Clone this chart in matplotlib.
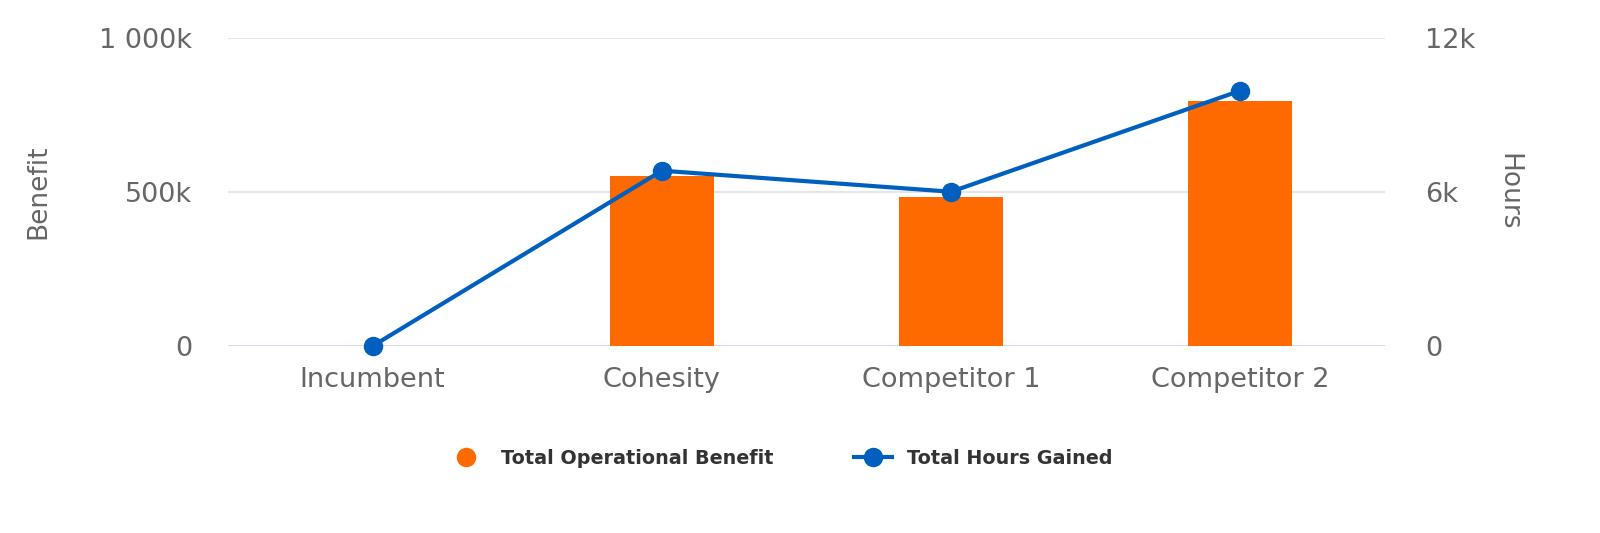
import matplotlib.pyplot as plt
from matplotlib.lines import Line2D
from matplotlib.ticker import FuncFormatter

# data
categories = ['Incumbent', 'Cohesity', 'Competitor 1', 'Competitor 2']
benefit = [0, 552000, 484000, 795000]
hours = [0, 6830, 6010, 9950]

orange = '#ff6a00'
blue = '#005fbf'
tick_col = '#666666'

plt.rcParams['font.family'] = ['DejaVu Sans']

fig = plt.figure(figsize=(16, 5.33), dpi=100)
ax = fig.add_axes([228 / 1600, 1 - 346 / 533, (1385 - 228) / 1600, (346 - 38) / 533])
ax2 = ax.twinx()

x = range(len(categories))
ax.bar(x, benefit, width=0.36, color=orange, zorder=2)
ax2.plot(x, hours, color=blue, linewidth=3, marker='o', markersize=13, zorder=3, clip_on=False)

ax.set_xlim(-0.5, 3.5)
ax.set_ylim(0, 1000000)
ax2.set_ylim(0, 12000)
ax.set_yticks([0, 500000, 1000000])
ax2.set_yticks([0, 6000, 12000])

def fmt_left(v, pos):
    if v == 0:
        return '0'
    k = int(v / 1000)
    return '{:,}k'.format(k).replace(',', ' ')

ax.yaxis.set_major_formatter(FuncFormatter(fmt_left))
ax2.yaxis.set_major_formatter(FuncFormatter(lambda v, p: '0' if v == 0 else f'{int(v / 1000)}k'))

ax.set_xticks(list(x))
ax.set_xticklabels(categories)

# grid lines
for y in [500000, 1000000]:
    ax.axhline(y, color='#e6e6e6', linewidth=1.5, zorder=0)
ax.axhline(0, color='#ccd6eb', linewidth=2, zorder=1)

for a in (ax, ax2):
    for s in a.spines.values():
        s.set_visible(False)
    a.tick_params(length=0, labelsize=19.5, labelcolor=tick_col)
ax.tick_params(axis='y', pad=26)
ax2.tick_params(axis='y', pad=29)
ax.tick_params(axis='x', pad=15)

ax.set_ylabel('Benefit', fontsize=19, color=tick_col, va='center')
ax.yaxis.set_label_coords((38 - 228) / 1157, 0.5)
ax2.set_ylabel('Hours', fontsize=19, color=tick_col, rotation=270, va='center')
ax2.yaxis.set_label_coords((1508 - 228) / 1157, 0.5)

handles = [
    Line2D([], [], linestyle='none', marker='o', markersize=13, color=orange),
    Line2D([], [], color=blue, linewidth=3, marker='o', markersize=13),
]
leg = fig.legend(handles, ['Total Operational Benefit', 'Total Hours Gained'],
                 loc='center', bbox_to_anchor=(780 / 1600, 1 - 458 / 533), ncol=2,
                 frameon=False, handlelength=2.0, handletextpad=0.8, columnspacing=4.2,
                 prop={'weight': 'bold', 'size': 13.8})
for t in leg.get_texts():
    t.set_color('#333333')

fig.savefig('out.png', dpi=100)
